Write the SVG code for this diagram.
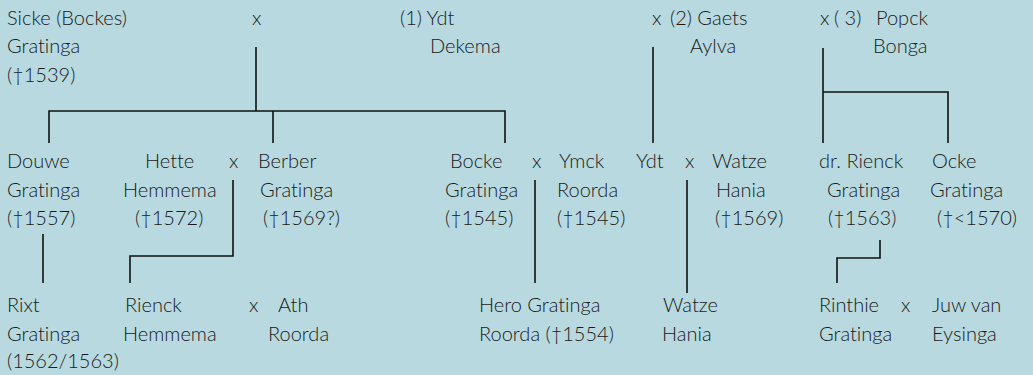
<svg xmlns="http://www.w3.org/2000/svg" width="1033" height="375" viewBox="0 0 1033 375">
<style>
text{font-family:Lato,"Liberation Sans",sans-serif;font-size:20px;font-weight:300;fill:#1a1a1a;font-variant-ligatures:none}
.c path{fill:none;stroke:#111;stroke-width:1.6}
</style>
<rect width="1033" height="375" fill="#b7d9df"/>
<g class="c" id="connectors">
<path d="M256 47V111M49 143V111H505V143M273 111V143"/>
<path d="M653 47V143"/>
<path d="M823 48V143M823 92H948V143"/>
<path d="M233 180V256H130V283"/>
<path d="M43 234V283"/>
<path d="M535 180V283"/>
<path d="M687 180V293"/>
<path d="M880 240V258H837V283"/>
</g>
<g id="sicke"><text x="7" y="25">Sicke (Bockes)</text><text x="7" y="53">Gratinga</text><text x="7" y="82">(†1539)</text></g>
<g id="m1"><text x="252" y="25">x</text></g>
<g id="ydt1"><text x="400" y="25">(1) Ydt</text><text x="430" y="53">Dekema</text></g>
<g id="gaets"><text y="25"><tspan x="652">x</tspan> <tspan x="670">(2) Gaets</tspan></text><text x="690" y="53">Aylva</text></g>
<g id="popck"><text y="25"><tspan x="820">x</tspan> <tspan x="834">( 3)</tspan> <tspan x="876">Popck</tspan></text><text x="873" y="53">Bonga</text></g>
<g id="douwe"><text x="7" y="168">Douwe</text><text x="7" y="197">Gratinga</text><text x="7" y="225">(†1557)</text></g>
<g id="hette"><text x="145" y="168">Hette</text><text x="123" y="197">Hemmema</text><text x="135" y="225">(†1572)</text></g>
<g id="m2"><text x="229" y="168">x</text></g>
<g id="berber"><text x="258" y="168">Berber</text><text x="260" y="197">Gratinga</text><text x="263" y="225">(†1569?)</text></g>
<g id="bocke"><text x="450" y="168">Bocke</text><text x="445" y="197">Gratinga</text><text x="445" y="225">(†1545)</text></g>
<g id="m3"><text x="532" y="168">x</text></g>
<g id="ymck"><text x="559" y="168">Ymck</text><text x="557" y="197">Roorda</text><text x="557" y="225">(†1545)</text></g>
<g id="ydt2"><text x="636" y="168">Ydt</text></g>
<g id="m4"><text x="685" y="168">x</text></g>
<g id="watze1"><text x="712" y="168">Watze</text><text x="716" y="197">Hania</text><text x="715" y="225">(†1569)</text></g>
<g id="rienck1"><text x="819" y="168">dr. Rienck</text><text x="827" y="197">Gratinga</text><text x="828" y="225">(†1563)</text></g>
<g id="ocke"><text x="932" y="168">Ocke</text><text x="930" y="197">Gratinga</text><text x="937" y="225">(†&lt;1570)</text></g>
<g id="rixt"><text x="7" y="312">Rixt</text><text x="7" y="341">Gratinga</text><text x="7" y="368">(1562/1563)</text></g>
<g id="rienck2"><text x="125" y="312">Rienck</text><text x="123" y="341">Hemmema</text></g>
<g id="m5"><text x="249" y="312">x</text></g>
<g id="ath"><text x="278" y="312">Ath</text><text x="268" y="341">Roorda</text></g>
<g id="hero"><text x="479" y="312">Hero Gratinga</text><text x="479" y="341">Roorda (†1554)</text></g>
<g id="watze2"><text x="663" y="312">Watze</text><text x="662" y="341">Hania</text></g>
<g id="rinthie"><text x="819" y="312">Rinthie</text><text x="819" y="341">Gratinga</text></g>
<g id="m6"><text x="901" y="312">x</text></g>
<g id="juw"><text x="932" y="312">Juw van</text><text x="932" y="341">Eysinga</text></g>
</svg>
